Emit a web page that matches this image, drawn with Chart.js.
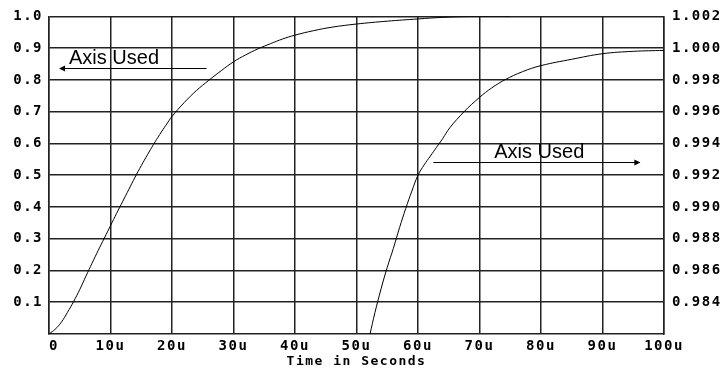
<!DOCTYPE html>
<html>
<head>
<meta charset="utf-8">
<script src="https://cdn.jsdelivr.net/npm/chart.js@4/dist/chart.umd.min.js"></script>
<style>
  html, body { margin: 0; padding: 0; background: #fff; }
  #wrap { width: 722px; height: 368px; }
</style>
</head>
<body>
<div id="wrap"><canvas id="c" width="722" height="368"></canvas></div>
<script>
// ---- data ----
const leftTimes  = [0, 1, 2, 3, 4, 5, 6, 7, 8, 9, 10, 11, 12, 13, 14, 15, 16, 17, 18, 19, 20, 22, 24, 26, 28, 30, 32, 34, 36, 38, 40, 43, 46, 50, 55, 60, 64, 68, 75];
const leftValues = [0, 0.015, 0.037, 0.068, 0.102, 0.14, 0.182, 0.223, 0.263, 0.302, 0.341, 0.38, 0.418, 0.456, 0.494, 0.53, 0.564, 0.597, 0.628, 0.657, 0.685, 0.729, 0.767, 0.799, 0.829, 0.857, 0.879, 0.898, 0.914, 0.929, 0.941, 0.955, 0.966, 0.976, 0.985, 0.992, 0.997, 0.9995, 1.0];

const rightTimes  = [52.2, 53, 54, 55, 56, 57, 58, 59, 60, 61, 62, 63, 64, 65.2, 67.5, 70, 72, 74.1, 77, 80, 85, 90, 95, 100];
const rightValues = [0.982, 0.98335, 0.98485, 0.9862, 0.9874, 0.9887, 0.9899, 0.991, 0.992, 0.99265, 0.9932, 0.99375, 0.9943, 0.995, 0.996, 0.9969, 0.9975, 0.998, 0.99852, 0.9989, 0.9993, 0.99965, 0.9998, 0.99986];

const xTickValues = [0, 10, 20, 30, 40, 50, 60, 70, 80, 90, 100];
const xTickLabels = [' 0', '10u', '20u', '30u', '40u', '50u', '60u', '70u', '80u', '90u', '100u'];
const leftTickValues  = [0, 0.1, 0.2, 0.3, 0.4, 0.5, 0.6, 0.7, 0.8, 0.9, 1.0];
const rightTickValues = [0.982, 0.984, 0.986, 0.988, 0.990, 0.992, 0.994, 0.996, 0.998, 1.000, 1.002];
const xTitle = 'Time in Seconds';

// annotations in data units
const notes = [
  { text: 'Axis Used', x: 3.25, y: 0.851, axis: 'y' },
  { text: 'Axis Used', x: 72.4, y: 0.99311, axis: 'y2' }
];
const arrows = [
  { from: 25.6, to: 1.8, y: 0.837, axis: 'y' },
  { from: 62.5, to: 96.0, y: 0.9928, axis: 'y2' }
];

// ---- styles ----
const monoFamily = '"DejaVu Sans Mono", "Liberation Mono", monospace';
const tickFont = { family: monoFamily, size: 14, weight: 'bold', lineHeight: 1.2 };
const titleFont = { family: monoFamily, size: 13, weight: 'bold', lineHeight: 1.2 };
const SPACING = '1.5px';

const spacingPlugin = {
  id: 'spacing',
  beforeUpdate(chart) { chart.ctx.letterSpacing = SPACING; },
  beforeLayout(chart) { chart.ctx.letterSpacing = SPACING; },
  beforeDraw(chart) { chart.ctx.letterSpacing = SPACING; }
};

const notePlugin = {
  id: 'notes',
  afterDatasetsDraw(chart) {
    const ctx = chart.ctx;
    const xs = chart.scales.x;
    ctx.save();
    ctx.letterSpacing = '0px';
    ctx.fillStyle = '#000';
    ctx.strokeStyle = '#000';
    ctx.font = '20px "Liberation Sans", Arial, sans-serif';
    ctx.textAlign = 'left';
    ctx.textBaseline = 'alphabetic';
    for (const n of notes) {
      const ys = chart.scales[n.axis];
      ctx.fillText(n.text, xs.getPixelForValue(n.x), ys.getPixelForValue(n.y));
    }
    ctx.lineWidth = 1;
    for (const a of arrows) {
      const ys = chart.scales[a.axis];
      const x1 = xs.getPixelForValue(a.from);
      const x2 = xs.getPixelForValue(a.to);
      const y = Math.round(ys.getPixelForValue(a.y)) + 0.5;
      ctx.beginPath();
      ctx.moveTo(x1, y);
      ctx.lineTo(x2, y);
      ctx.stroke();
      const dir = Math.sign(x2 - x1);
      ctx.beginPath();
      ctx.moveTo(x2 + dir * 1, y);
      ctx.lineTo(x2 - dir * 5, y - 3);
      ctx.lineTo(x2 - dir * 5, y + 3);
      ctx.closePath();
      ctx.fill();
    }
    ctx.restore();
  }
};

const gridColor = '#222';

new Chart(document.getElementById('c'), {
  type: 'line',
  data: {
    datasets: [
      {
        data: leftTimes.map((t, i) => ({ x: t, y: leftValues[i] })),
        yAxisID: 'y',
        borderColor: '#000',
        borderWidth: 1,
        pointRadius: 0,
        tension: 0.4,
        fill: false
      },
      {
        data: rightTimes.map((t, i) => ({ x: t, y: rightValues[i] })),
        yAxisID: 'y2',
        borderColor: '#000',
        borderWidth: 1,
        pointRadius: 0,
        tension: 0.4,
        fill: false
      }
    ]
  },
  options: {
    responsive: false,
    animation: false,
    devicePixelRatio: 1,
    layout: { padding: { top: 16, left: 0, right: 0, bottom: 0 } },
    plugins: { legend: { display: false }, tooltip: { enabled: false } },
    scales: {
      x: {
        type: 'linear',
        min: 0, max: 100,
        afterFit(s) { s.height = 34; },
        afterBuildTicks(s) { s.ticks = xTickValues.map(v => ({ value: v })); },
        ticks: {
          color: '#000',
          font: tickFont,
          padding: 4,
          maxRotation: 0,
          autoSkip: false,
          callback(v) { const i = xTickValues.indexOf(v); return i >= 0 ? xTickLabels[i] : ''; }
        },
        grid: { color: gridColor, lineWidth: 1.5, drawTicks: false },
        border: { color: gridColor, width: 1.5 },
        title: { display: true, text: xTitle, color: '#000', font: titleFont, padding: { top: 0, bottom: -1 } }
      },
      y: {
        type: 'linear',
        position: 'left',
        min: 0, max: 1,
        afterFit(s) { s.width = 49; },
        afterBuildTicks(s) { s.ticks = leftTickValues.map(v => ({ value: v })); },
        ticks: {
          color: '#000',
          font: tickFont,
          padding: 6,
          autoSkip: false,
          callback(v) { return v === 0 ? null : v.toFixed(1); }
        },
        grid: { color: gridColor, lineWidth: 1.5, drawTicks: false },
        border: { color: gridColor, width: 1.5 }
      },
      y2: {
        type: 'linear',
        position: 'right',
        min: 0.982, max: 1.002,
        afterFit(s) { s.width = 58; },
        afterBuildTicks(s) { s.ticks = rightTickValues.map(v => ({ value: v })); },
        ticks: {
          color: '#000',
          font: tickFont,
          padding: 8,
          autoSkip: false,
          callback(v) { return Math.abs(v - 0.982) < 1e-9 ? null : v.toFixed(3); }
        },
        grid: { drawOnChartArea: false, drawTicks: false },
        border: { color: gridColor, width: 1.5 }
      }
    }
  },
  plugins: [spacingPlugin, notePlugin]
});
</script>
</body>
</html>
